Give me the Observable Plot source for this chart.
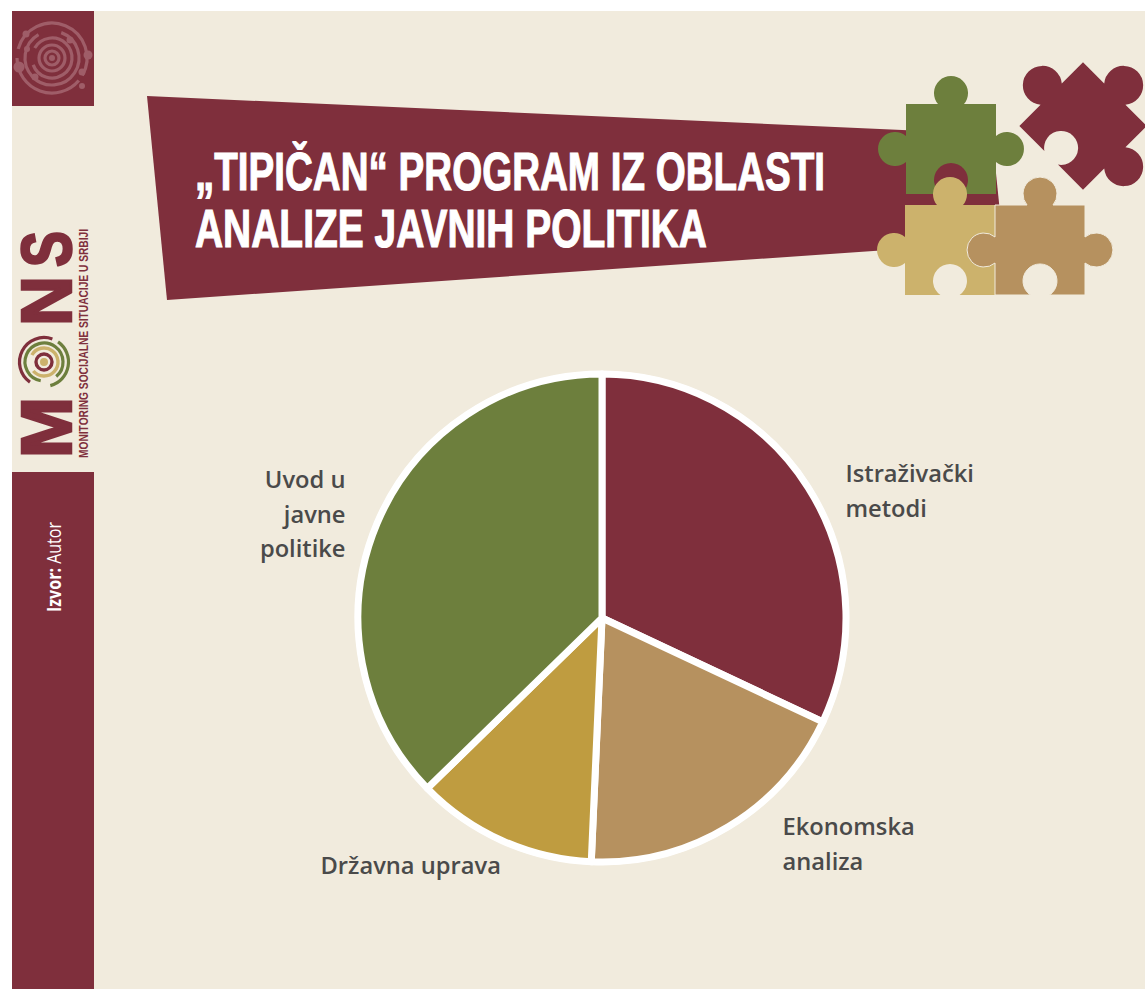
<!DOCTYPE html>
<html><head><meta charset="utf-8">
<script src="https://cdn.jsdelivr.net/npm/d3@7"></script>
<script src="https://cdn.jsdelivr.net/npm/@observablehq/plot@0.6"></script>
<style>
html,body{margin:0;padding:0;background:#fff;}
#page{position:relative;width:1145px;height:989px;overflow:hidden;}
#page svg{position:absolute;left:0;top:0;}
</style></head><body>
<div id="page"><svg id="decor" width="1145" height="989" viewBox="0 0 1145 989"></svg><div id="chart"></div></div>
<script>
// ---- chart data ----
const names = ["Istraživački metodi","Ekonomska analiza","Državna uprava","Uvod u javne politike"];
const shares = [32, 18.7, 12, 37.3];
const sliceColors = ["#7f2f3c","#b6915f","#bf9c40","#6d7f3d"];
const labelLines = ["Istraživački\nmetodi","Ekonomska\nanaliza","Državna uprava","Uvod u\njavne\npolitike"];
// label placement, separate from data
const labelDx = [243,180,-282,-257];
const labelDy = [-130,223,244,-107];
const labelAnchor = ["start","start","start","end"];
const titleLines = ["„TIPIČAN“ PROGRAM IZ OBLASTI","ANALIZE JAVNIH POLITIKA"];

const slices = names.map((name,i)=>({name,share:shares[i],label:labelLines[i],dx:labelDx[i],dy:labelDy[i],anchor:labelAnchor[i]}));

// ---- decoration ----
const C = {maroon:"#7f2f3c",cream:"#f1ebdd",green:"#6d7f3d",yellow:"#ccb26c",tan:"#b6915f"};
function piece(cx,cy,edges,fill,rot=0,extra="",r=17,n=13){
  const h=45,m=9.6;
  const p=[`M${-h} ${-h}`];
  p.push(edges[0]?`L${-n} ${-h}A${r} ${r} 0 1 1 ${n} ${-h}`:"");
  p.push(`L${h} ${-h}`);
  p.push(edges[1]?`L${h} ${-n}A${r} ${r} 0 1 1 ${h} ${n}`:"");
  p.push(`L${h} ${h}`);
  p.push(edges[2]?`L${m} ${h}A17 17 0 1 0 ${-m} ${h}`:"");
  p.push(`L${-h} ${h}`);
  p.push(edges[3]?`L${-h} ${n}A${r} ${r} 0 1 1 ${-h} ${-n}`:"");
  p.push("Z");
  return `<path d="${p.join("")}" fill="${fill}" stroke-linejoin="round" ${extra} transform="translate(${cx} ${cy}) rotate(${rot})"/>`;
}
const ring=(r,c,s,e,w)=>{
  const a=d3.arc()({innerRadius:r,outerRadius:r,startAngle:s*Math.PI/180,endAngle:e*Math.PI/180});
  return `<path d="${a}" fill="none" stroke="${c}" stroke-width="${w}" stroke-linecap="round"/>`;
};
const sw="#9f5d68";
const swirl=[[7,0,360],[13,0,360],[20,-60,250],[27,20,330],[35,-75,120],[35,130,270]].map(([r,s,e])=>ring(r,sw,s,e,3.2)).join("");
const swirlDots=[[-33,9,5.5],[36,-3,4.5],[-26,-24,3.5],[18,-18,3.5],[30,14,3.5],[-17,19,3.5],[-25,-9,3],[30,28,3]].map(([x,y,r])=>`<circle cx="${x}" cy="${y}" r="${r}"/>`).join("");
const mini=[ring(8,C.maroon,0,360,3.4),ring(14,C.yellow,-60,230,3.4),ring(19,C.green,190,500,3.2),ring(24.5,C.maroon,215,380,3.2),ring(24.5,C.green,35,165,3.2)].join("");
document.getElementById("decor").innerHTML=`
<rect x="12" y="11" width="1133" height="978" fill="${C.cream}"/>
<rect x="12" y="11" width="82" height="95" fill="${C.maroon}"/>
<g transform="translate(52 58)">${swirl}<g fill="${sw}">${swirlDots}<circle r="3"/></g></g>
<rect x="12" y="472" width="82" height="517" fill="${C.maroon}"/>
<g fill="${C.maroon}" stroke="${C.maroon}" font-family="'Liberation Sans',sans-serif" font-weight="700">
 <text transform="translate(71 458) rotate(-90)" font-size="70" stroke-width="2.5" textLength="61" lengthAdjust="spacingAndGlyphs">M</text>
 <text transform="translate(71 326) rotate(-90)" font-size="70" stroke-width="2.5" textLength="50" lengthAdjust="spacingAndGlyphs">N</text>
 <text transform="translate(71 267) rotate(-90)" font-size="70" stroke-width="2.5" textLength="36" lengthAdjust="spacingAndGlyphs">S</text>
</g>
<text transform="translate(88 458) rotate(-90)" fill="${C.maroon}" font-family="'Liberation Sans Narrow','Liberation Sans',sans-serif" font-weight="700" font-size="13" textLength="229" lengthAdjust="spacingAndGlyphs">MONITORING SOCIJALNE SITUACIJE U SRBIJI</text>
<g transform="translate(44 362)">${mini}<circle r="4" fill="${C.yellow}"/></g>
<text transform="translate(61 612) rotate(-90)" fill="#fff" font-family="'Liberation Sans Narrow','Open Sans',sans-serif" font-size="20" textLength="90" lengthAdjust="spacingAndGlyphs"><tspan font-weight="700">Izvor:</tspan> <tspan font-weight="400">Autor</tspan></text>
<polygon points="147,96 992,134 1003,242 167,300" fill="${C.maroon}"/>
<g fill="#fff" stroke="#fff" stroke-width="1.1" font-family="'Liberation Sans Narrow','Liberation Sans',sans-serif" font-weight="700" font-size="53">
 <text x="195" y="190" textLength="630" lengthAdjust="spacingAndGlyphs">${titleLines[0]}</text>
 <text x="195" y="247" textLength="512" lengthAdjust="spacingAndGlyphs">${titleLines[1]}</text>
</g>
${piece(1083,126,[1,1,1,1],C.maroon,45,"",19.5,15)}
${piece(951,149,[1,1,1,1],C.green)}
${piece(950,250,[1,0,1,1],C.yellow)}
${piece(1040,250,[1,1,1,1],C.tan,0,`stroke="${C.cream}" stroke-width="1"`)}
`;

// ---- chart ----
const cx=602, cy=618, R=244;
const pieMark = Plot.dot(slices,{x:()=>0,y:()=>0,fill:"name",r:0,render(index,scales,values,dims,ctx){
  const radius=scales.x(1)-scales.x(0);
  const ox=scales.x(0), oy=scales.y(0);
  const arcs=d3.pie().sort(null).value(d=>d.share)(slices);
  const arc=d3.arc().innerRadius(0).outerRadius(radius);
  const g=d3.select(ctx.document.createElementNS("http://www.w3.org/2000/svg","g")).attr("transform",`translate(${ox},${oy})`);
  g.append("circle").attr("r",radius+3).attr("fill","#fff");
  g.selectAll("path").data(arcs).join("path").attr("d",arc)
    .attr("fill",(d,i)=>scales.color(slices[i].name))
    .attr("stroke","#fff").attr("stroke-width",7).attr("stroke-linejoin","round");
  return g.node();
}});
const textOpts=a=>({x:()=>0,y:()=>0,text:"label",textAnchor:a,lineAnchor:"middle",lineHeight:1.45,fontSize:23.7,fontWeight:600,fontFamily:"'Open Sans',sans-serif",fill:"#4a4a4a"});
const labelMarks = slices.map(s=>Plot.text([s],{...textOpts(s.anchor),dx:s.dx,dy:s.dy}));
const chart=Plot.plot({
  width:1145,height:989,margin:0,
  style:{background:"transparent"},
  x:{domain:[-1,1],range:[cx-R,cx+R],axis:null},
  y:{domain:[-1,1],range:[cy+R,cy-R],axis:null},
  color:{domain:names,range:sliceColors},
  marks:[pieMark,...labelMarks]
});
document.getElementById("chart").appendChild(chart);
</script>
</body></html>
